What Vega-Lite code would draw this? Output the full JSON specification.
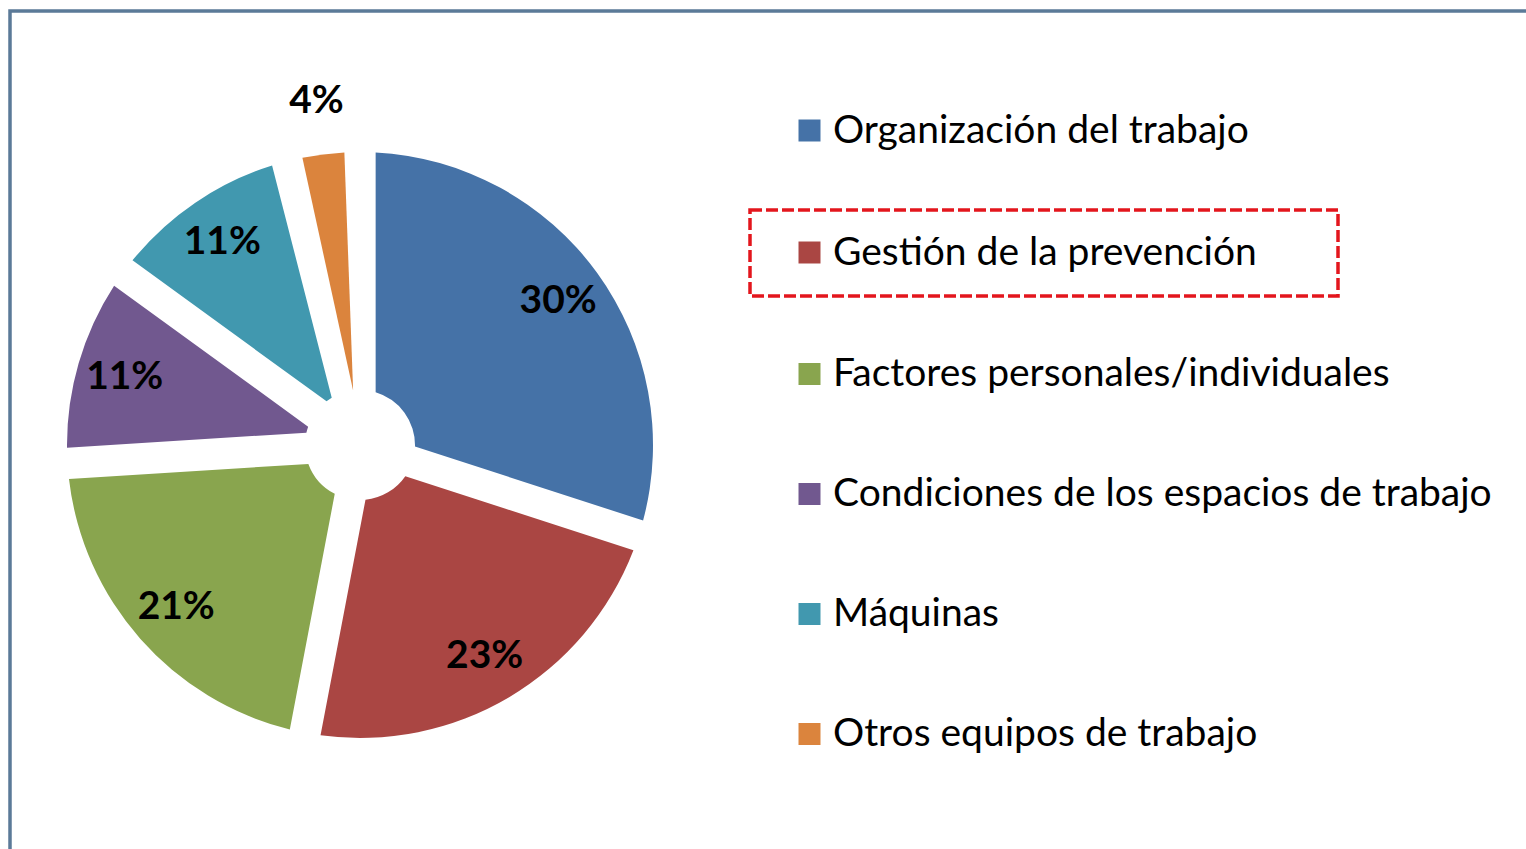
{
  "$schema": "https://vega.github.io/schema/vega-lite/v6.json",
  "width": 1530,
  "height": 860,
  "autosize": {"type": "none"},
  "padding": {"left": 10, "top": 11, "right": 0, "bottom": 0},
  "background": "white",
  "config": {"view": {"stroke": null}, "font": "Lato", "legend": {"strokeDash": [12, 4], "strokeWidth": 3.5}},
  "data": {
    "values": [
      {"causa": "Organización del trabajo", "share": 0.30, "orden": 1},
      {"causa": "Gestión de la prevención", "share": 0.23, "orden": 2},
      {"causa": "Factores personales/individuales", "share": 0.21, "orden": 3},
      {"causa": "Condiciones de los espacios de trabajo", "share": 0.11, "orden": 4},
      {"causa": "Máquinas", "share": 0.11, "orden": 5},
      {"causa": "Otros equipos de trabajo", "share": 0.04, "orden": 6}
    ]
  },
  "resolve": {"scale": {"color": "independent"}, "legend": {"color": "independent"}},
  "layer": [
    {
      "data": {"values": [{"marco": "borde"}]},
      "mark": {"type": "rect", "fill": null, "stroke": "#5b7a98", "strokeWidth": 3.5},
      "encoding": {}
    },
    {
      "mark": {"type": "arc", "x": 350, "y": 434, "outerRadius": 293, "innerRadius": 55, "padAngle": 0.105},
      "encoding": {
        "theta": {"field": "share", "type": "quantitative", "stack": true},
        "order": {"field": "orden", "type": "quantitative"},
        "color": {
          "field": "causa",
          "type": "nominal",
          "scale": {
            "domain": ["Organización del trabajo", "Gestión de la prevención", "Factores personales/individuales", "Condiciones de los espacios de trabajo", "Máquinas", "Otros equipos de trabajo"],
            "range": ["#4572a7", "#aa4643", "#89a54e", "#71588f", "#4198af", "#db843d"]
          },
          "legend": null
        }
      }
    },
    {
      "mark": {"type": "text", "x": 350, "y": 434, "radius": 245, "font": "Lato", "fontWeight": "bold", "fontSize": 39, "fill": "#000000"},
      "encoding": {
        "theta": {"field": "share", "type": "quantitative", "stack": true},
        "order": {"field": "orden", "type": "quantitative"},
        "text": {"field": "share", "type": "quantitative", "format": ".0%"},
        "opacity": {"condition": {"test": "datum.share < 0.05", "value": 0}, "value": 1}
      }
    },
    {
      "mark": {"type": "text", "x": 350, "y": 434, "radius": 347, "font": "Lato", "fontWeight": "bold", "fontSize": 39, "fill": "#000000"},
      "encoding": {
        "theta": {"field": "share", "type": "quantitative", "stack": true},
        "order": {"field": "orden", "type": "quantitative"},
        "text": {"field": "share", "type": "quantitative", "format": ".0%"},
        "opacity": {"condition": {"test": "datum.share < 0.05", "value": 1}, "value": 0}
      }
    },
    {
      "transform": [{"filter": "datum.orden === 1"}],
      "mark": {"type": "text", "text": ""},
      "encoding": {
        "color": {
          "field": "causa", "type": "nominal",
          "scale": {"domain": ["Organización del trabajo"], "range": ["#4572a7"]},
          "legend": {
            "title": null, "orient": "none", "direction": "vertical", "legendX": 740, "legendY": 77, "padding": 0,
            "labelFont": "Lato", "labelFontSize": 39, "labelColor": "#000000", "labelLimit": 0,
            "symbolType": "square", "symbolSize": 484, "symbolStrokeWidth": 0, "symbolOpacity": 1,
            "encode": {
              "symbols": {"update": {"x": {"value": 59.5}, "y": {"value": 42.5}}},
              "labels": {"update": {"x": {"value": 83}, "y": {"value": 42.5}, "baseline": {"value": "middle"}}}
            }
          }
        }
      }
    },
    {
      "transform": [{"filter": "datum.orden === 2"}],
      "mark": {"type": "text", "text": ""},
      "encoding": {
        "color": {
          "field": "causa", "type": "nominal",
          "scale": {"domain": ["Gestión de la prevención"], "range": ["#aa4643"]},
          "legend": {
            "title": "\u00a0", "titleOrient": "right", "titlePadding": 58, "titleFontSize": 10, "titleColor": "#ffffff", "titleOpacity": 0,
            "orient": "none", "direction": "vertical", "legendX": 740, "legendY": 199, "padding": 23,
            "strokeColor": "#e3161d",
            "labelFont": "Lato", "labelFontSize": 39, "labelColor": "#000000", "labelLimit": 0,
            "symbolType": "square", "symbolSize": 484, "symbolStrokeWidth": 0, "symbolOpacity": 1,
            "encode": {
              "symbols": {"update": {"x": {"value": 36.5}, "y": {"value": 19.5}}},
              "labels": {"update": {"x": {"value": 60}, "y": {"value": 19.5}, "baseline": {"value": "middle"}}}
            }
          }
        }
      }
    },
    {
      "transform": [{"filter": "datum.orden >= 3"}],
      "mark": {"type": "text", "text": ""},
      "encoding": {
        "color": {
          "field": "causa", "type": "nominal",
          "scale": {
            "domain": ["Factores personales/individuales", "Condiciones de los espacios de trabajo", "Máquinas", "Otros equipos de trabajo"],
            "range": ["#89a54e", "#71588f", "#4198af", "#db843d"]
          },
          "legend": {
            "title": null, "orient": "none", "direction": "vertical", "legendX": 740, "legendY": 320.5, "padding": 0,
            "labelFont": "Lato", "labelFontSize": 39, "labelColor": "#000000", "labelLimit": 0,
            "symbolType": "square", "symbolSize": 484, "symbolStrokeWidth": 0, "symbolOpacity": 1,
            "rowPadding": 57,
            "encode": {
              "symbols": {"update": {"x": {"value": 59.5}, "y": {"value": 42.5}}},
              "labels": {"update": {"x": {"value": 83}, "y": {"value": 42.5}, "baseline": {"value": "middle"}}}
            }
          }
        }
      }
    }
  ]
}
